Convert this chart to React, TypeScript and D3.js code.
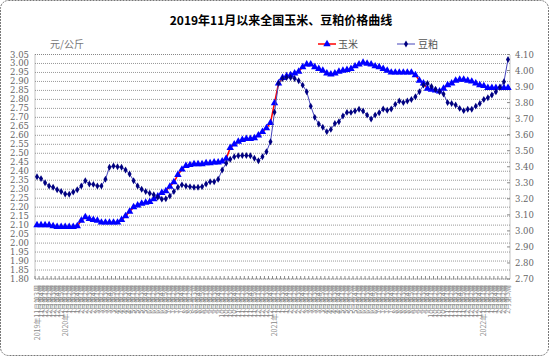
import React from "react";
import * as d3 from "d3";

const title = "2019年11月以来全国玉米、豆粕价格曲线";
const unitLabel = "元/公斤";
const seriesNames = ["玉米", "豆粕"];

// weeks per month, per year, for category labels
const yearMonths: [number, number[], number[]][] = [
  [2019, [11, 12], [2, 5]],
  [2020, [1, 2, 3, 4, 5, 6, 7, 8, 9, 10, 11, 12], [4, 4, 5, 4, 4, 5, 4, 5, 4, 4, 5, 4]],
  [2021, [1, 2, 3, 4, 5, 6, 7, 8, 9, 10, 11, 12], [4, 4, 5, 4, 4, 5, 4, 5, 4, 4, 5, 4]],
  [2022, [1, 2], [4, 3]],
];
const firstWeek: Record<string, number> = { "2019-11": 3 };

const categories: string[] = [];
yearMonths.forEach(([yr, months, counts]) => {
  months.forEach((m, mi) => {
    const start = firstWeek[`${yr}-${m}`] ?? 1;
    for (let w = 0; w < counts[mi]; w++) {
      const first = mi === 0 && w === 0;
      categories.push(`${first ? yr + "年" : ""}${m}月第${start + w}周`);
    }
  });
});

const corn = [
  2.10, 2.10, 2.10, 2.10, 2.095, 2.09, 2.09, 2.09, 2.09, 2.09, 2.095,
  2.125, 2.145, 2.135, 2.13, 2.125, 2.115, 2.115, 2.115, 2.115, 2.115, 2.13, 2.15, 2.175, 2.20, 2.21,
  2.22, 2.225, 2.23, 2.245, 2.26, 2.28, 2.29, 2.315, 2.34, 2.38, 2.41, 2.43, 2.435,
  2.44, 2.44, 2.44, 2.445, 2.445, 2.45, 2.45,
  2.455, 2.47, 2.53, 2.55, 2.565, 2.575, 2.58, 2.58, 2.585, 2.60, 2.62, 2.64, 2.67, 2.78, 2.89,
  2.92, 2.93, 2.935, 2.945, 2.955, 2.98, 2.995, 2.995, 2.98, 2.97, 2.96, 2.945, 2.94, 2.945, 2.955,
  2.96, 2.965, 2.97, 2.985, 2.995, 3.005, 3.00, 2.995, 2.985, 2.98, 2.97, 2.96, 2.95,
  2.95, 2.95, 2.95, 2.95, 2.95,
  2.935, 2.905, 2.89, 2.86, 2.855, 2.85, 2.845, 2.86, 2.88, 2.89, 2.905, 2.91, 2.91, 2.905, 2.90,
  2.89, 2.88, 2.875,
  2.865, 2.865, 2.865, 2.865, 2.865, 2.865,
];

const meal = [
  3.338, 3.326, 3.30, 3.28, 3.272, 3.256, 3.245, 3.23, 3.229, 3.243,
  3.256, 3.28, 3.313, 3.293, 3.29, 3.28, 3.28, 3.322, 3.397, 3.405,
  3.40, 3.397, 3.38, 3.355, 3.313, 3.28, 3.26, 3.245, 3.235, 3.225,
  3.21, 3.198, 3.20, 3.218, 3.245, 3.272, 3.287, 3.28, 3.276, 3.272,
  3.272, 3.276, 3.293, 3.307, 3.307, 3.322, 3.38, 3.422, 3.447, 3.463,
  3.468, 3.47, 3.47, 3.468, 3.453, 3.438, 3.463, 3.494, 3.556, 3.74,
  3.92, 3.95, 3.957, 3.957, 3.95, 3.936, 3.909, 3.868, 3.778, 3.708,
  3.666, 3.646, 3.619, 3.633, 3.67, 3.681, 3.716, 3.739, 3.739, 3.747,
  3.758, 3.747, 3.722, 3.698, 3.722, 3.737, 3.76, 3.753, 3.76, 3.789,
  3.81, 3.80, 3.81, 3.82, 3.837, 3.868, 3.909, 3.92, 3.90, 3.882,
  3.868, 3.853, 3.80, 3.795, 3.785, 3.764, 3.75, 3.758, 3.758, 3.778,
  3.795, 3.82, 3.83, 3.847, 3.868, 3.895, 3.93, 4.069,
];

const leftTicks = d3.range(0, 26).map((k) => +(1.8 + k * 0.05).toFixed(2));
const rightTicks = d3.range(0, 15).map((k) => +(2.7 + k * 0.1).toFixed(2));

export default function App() {
  const W = 550, H = 357;
  const L = 35, R = 510, T = 54.5, B = 279;
  const idx = d3.range(categories.length);
  const x = d3.scaleBand<number>().domain(idx).range([L, R]);
  const bw = x.bandwidth();
  const cx = (i: number) => (x(i) as number) + bw / 2;
  const yL = d3.scaleLinear().domain([1.8, 3.05]).range([B, T]);
  const yR = d3.scaleLinear().domain([2.7, 4.1]).range([B, T]);

  const cornLine = d3.line<number>().x((_, i) => cx(i)).y((d) => yL(d))(corn) as string;
  const mealLine = d3.line<number>().x((_, i) => cx(i)).y((d) => yR(d))(meal) as string;
  const tri = d3.symbol().type(d3.symbolTriangle).size(24)() as string;
  const dia = d3.symbol().type(d3.symbolDiamond).size(14)() as string;

  const axisFont = "'DejaVu Serif', serif";
  const cjk = "'Noto Sans CJK SC', sans-serif";

  return (
    <svg width={W} height={H} style={{ position: "absolute", left: 0, top: 0, background: "#fff" }}>
      <rect x={0.5} y={0.5} width={W - 2} height={H - 2} rx={8} fill="#fff" stroke="#777" strokeDasharray="2,1" />
      <text x={281} y={25} textAnchor="middle" fontFamily={cjk} fontWeight="bold" fontSize={12} fill="#000">
        {title}
      </text>
      <text x={50} y={48} fontFamily={cjk} fontSize={10} fill="#777">{unitLabel}</text>

      {/* legend */}
      <line x1={318} x2={336} y1={44} y2={44} stroke="#ff0000" strokeWidth={1.5} />
      <path d={tri} transform="translate(327,44)" fill="#0000ff" />
      <text x={338} y={48} fontFamily={cjk} fontSize={10} fill="#555">{seriesNames[0]}</text>
      <line x1={397} x2={415} y1={44} y2={44} stroke="#4444bb" strokeWidth={1} />
      <path d={dia} transform="translate(406,44)" fill="#000080" />
      <text x={418} y={48} fontFamily={cjk} fontSize={10} fill="#555">{seriesNames[1]}</text>

      {/* grid */}
      {leftTicks.map((t) => (
        <line key={"g" + t} x1={L} x2={R} y1={yL(t)} y2={yL(t)} stroke="#999" strokeWidth={1} strokeDasharray="1,1" />
      ))}
      <rect x={L} y={T} width={R - L} height={B - T} fill="none" stroke="#888" strokeDasharray="1,1" />

      {/* ticks */}
      {idx.map((i) => (
        <line key={"t" + i} x1={x(i) as number} x2={x(i) as number} y1={B} y2={B - 3} stroke="#888" />
      ))}
      {rightTicks.map((t) => (
        <line key={"rt" + t} x1={R} x2={R - 3} y1={yR(t)} y2={yR(t)} stroke="#888" />
      ))}

      {/* axis labels */}
      {leftTicks.map((t) => (
        <text key={"l" + t} x={29} y={yL(t) + 3} textAnchor="end" fontFamily={axisFont} fontSize={8.5} fill="#666">
          {t.toFixed(2)}
        </text>
      ))}
      {rightTicks.map((t) => (
        <text key={"r" + t} x={515} y={yR(t) + 3} fontFamily={axisFont} fontSize={8.5} fill="#666">
          {t.toFixed(2)}
        </text>
      ))}
      {categories.map((c, i) => (
        <text
          key={"c" + i}
          transform={`translate(${cx(i) + 2.5},${285}) rotate(-90)`}
          textAnchor="end"
          fontFamily={cjk}
          fontSize={7}
          fill="#888"
        >
          {c}
        </text>
      ))}

      {/* series */}
      <path d={cornLine} fill="none" stroke="#ff0000" strokeWidth={1.5} />
      {corn.map((v, i) => (
        <path key={"cm" + i} d={tri} transform={`translate(${cx(i)},${yL(v)})`} fill="#0000ff" />
      ))}
      <path d={mealLine} fill="none" stroke="#4444bb" strokeWidth={1} />
      {meal.map((v, i) => (
        <path key={"mm" + i} d={dia} transform={`translate(${cx(i)},${yR(v)})`} fill="#000080" />
      ))}
    </svg>
  );
}
